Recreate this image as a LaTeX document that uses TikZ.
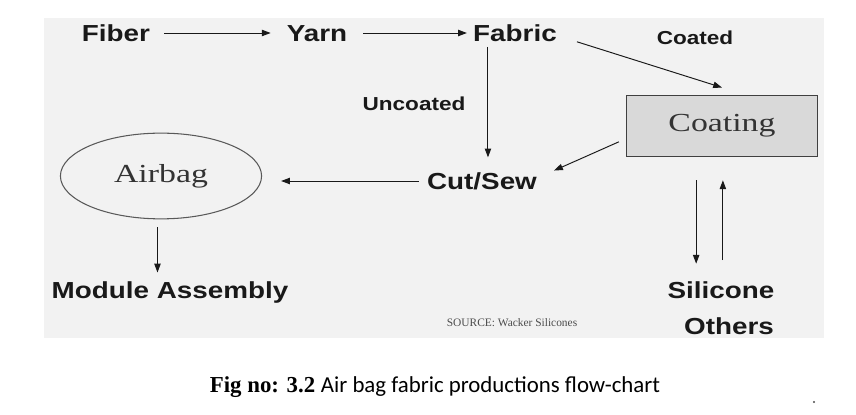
\documentclass[tikz,border=0pt]{standalone}
\usepackage{fontspec}
\setmainfont{Liberation Serif}
\newfontfamily\lblfont[FakeStretch=1.2]{Liberation Sans}
\newfontfamily\boxfont[FakeStretch=1.3]{Liberation Serif}
\newfontfamily\capfont{Carlito}
\usetikzlibrary{arrows.meta}
\usetikzlibrary{shapes.geometric}
\usetikzlibrary{calc}

\definecolor{bggray}{RGB}{242,242,242}
\definecolor{boxgray}{RGB}{217,217,217}
\definecolor{ink}{RGB}{25,25,25}

\tikzset{
  lbl/.style={inner sep=0pt, text=ink, text height=9.5pt, text depth=0pt,
              font=\lblfont\bfseries\fontsize{13.2}{15}\selectfont},
  smalllbl/.style={inner sep=0pt, text=ink, text height=7.7pt, text depth=0pt,
                   font=\lblfont\bfseries\fontsize{10.7}{13}\selectfont},
  arr/.style={draw=ink, line width=0.55pt, -{Triangle[length=5pt,width=3.6pt]}}
}

\begin{document}
\begin{tikzpicture}[x=0.02cm, y=-0.02cm]
            \useasboundingbox (0,0) rectangle (856,415);
            % background panel
            \fill [bggray] (44,18) rectangle (824,338);

            % Top row
            \node [lbl] (fiber) at (116,33) {Fiber};
            \node [lbl] (yarn) at (317,33) {Yarn};
            \node [lbl] (fabric) at (515,33) {Fabric};
            \node [smalllbl] (coated) at (695,38) {Coated};
            \node [smalllbl] (uncoated) at (414,104) {Uncoated};

            % Coating box
            \node [draw=black!75, fill=boxgray, line width=0.6pt, minimum width=108.8pt, minimum height=35.2pt,
                   font=\boxfont\fontsize{14.8}{17}\selectfont, text=black!80] (coating) at (722,126) {Coating};

            % Middle row
            \node [lbl] (cutsew) at (482,181) {Cut/Sew};
            \node [ellipse, draw=black!65, line width=0.6pt, minimum width=114.5pt, minimum height=48.8pt,
                   font=\boxfont\fontsize{14.8}{17}\selectfont, text=black!80] (airbag) at (161,176) {Airbag};

            % Bottom row
            \node [lbl] (module) at (170,290) {Module Assembly};
            \node [lbl] (silicone) at (721,290) {Silicone};
            \node [lbl] (others) at (729,326) {Others};
            \node [inner sep=0pt, text=black!70, font=\fontsize{6.5}{8}\selectfont] (source) at (512,323) {SOURCE: Wacker Silicones};

            % Caption
            \node [inner sep=0pt, font=\fontsize{13}{15}\selectfont] (caption) at (435,387)
                  {\textbf{Fig no:} \textbf{3.2} {\capfont Air bag fabric productions flow-chart}};
            \node [circle, fill=black!70, inner sep=0pt, minimum size=1.2pt] (dot) at (814,402) {};

            % Arrows along the top row
            \draw [arr] ([xshift=8pt]fiber.east) -- ([xshift=-9pt]yarn.west);
            \draw [arr] ([xshift=9pt]yarn.east) -- ([xshift=-3.4pt]fabric.west);
            \draw [arr] ([xshift=11.3pt,yshift=-5pt]fabric.east) -- ([yshift=4pt]coating.north);

            % Uncoated branch
            \draw [arr] ($(cutsew.north |- fabric.south)+(3.4pt,-3pt)$) -- ($(cutsew.north)+(3.4pt,8.5pt)$);

            % Coated fabric back to Cut/Sew
            \draw [arr] ($(coating.west)+(-4pt,-9pt)$) -- ($(cutsew.north east)+(9.6pt,1pt)$);

            % Cut/Sew to Airbag to Module
            \draw [arr] ($(cutsew.west)+(-4.5pt,0pt)$) -- ($(cutsew.west -| airbag.east)+(10.8pt,0pt)$);
            \draw [arr] ($(airbag.south)+(-2pt,-4.5pt)$) -- ($(airbag.south |- module.north)+(-2pt,5pt)$);

            % Coating <-> Silicone
            \draw [arr] ($(coating.south)+(-14.7pt,-13pt)$) -- ($(coating.south |- silicone.north)+(-14.7pt,10pt)$);
            \draw [arr] ($(coating.south |- silicone.north)+(0.5pt,12pt)$) -- ($(coating.south)+(0.5pt,-13pt)$);
\end{tikzpicture}
\end{document}
